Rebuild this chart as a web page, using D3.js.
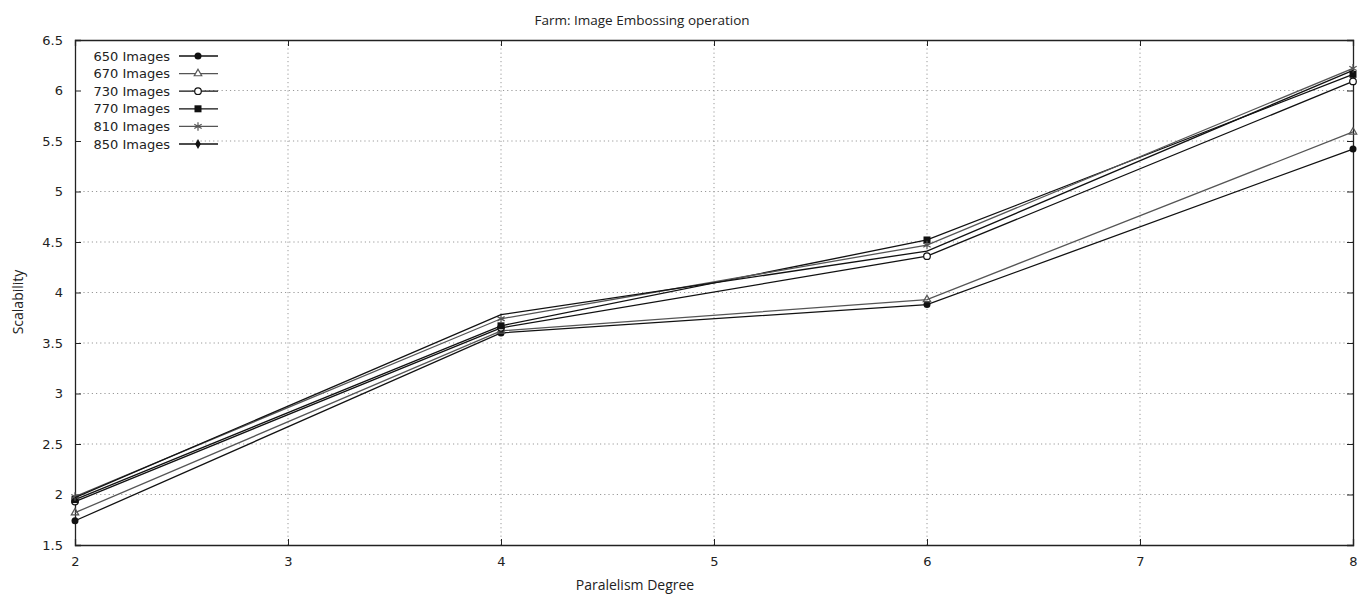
<!DOCTYPE html>
<html>
<head>
    <script src="https://d3js.org/d3.v7.min.js"></script>
    <style>
        body { margin: 0; background: #fff; }
        .tick text { font-family: 'DejaVu Sans'; font-size: 13px; fill: #222; }
        .grid line { stroke: #999; stroke-dasharray: 1.2 3; }
        .series path { fill: none; }
        .lbl { font-family: 'Open Sans'; fill: #222; }
    </style>
</head>
<body>
<script>
    // values
    const degrees = [2, 4, 6, 8];
    const seriesNames = ['650 Images', '670 Images', '730 Images', '770 Images', '810 Images', '850 Images'];
    const s650 = [1.74, 3.60, 3.88, 5.42];
    const s670 = [1.82, 3.62, 3.93, 5.59];
    const s730 = [1.93, 3.65, 4.36, 6.09];
    const s770 = [1.95, 3.67, 4.52, 6.16];
    const s810 = [1.98, 3.74, 4.47, 6.22];
    const s850 = [1.97, 3.78, 4.41, 6.20];
    const xTicks = [2, 3, 4, 5, 6, 7, 8];
    const yTicks = [1.5, 2, 2.5, 3, 3.5, 4, 4.5, 5, 5.5, 6, 6.5];

    const allSeries = [s650, s670, s730, s770, s810, s850];
    const markers = ['circle', 'triangle', 'ocircle', 'square', 'star', 'diamond'];
    const strokes = ['#111', '#555', '#111', '#111', '#555', '#111'];

    const W = 1359, H = 594;
    const m = {left: 75, right: 6, top: 40, bottom: 49};

    const x = d3.scaleLinear().domain([2, 8]).range([m.left, W - m.right]);
    const y = d3.scaleLinear().domain([1.5, 6.5]).range([H - m.bottom, m.top]);

    const svg = d3.select('body').append('svg')
        .attr('width', W).attr('height', H);

    // grid
    const grid = svg.append('g').attr('class', 'grid');
    grid.selectAll('.gx').data(xTicks.slice(1, -1)).join('line')
        .attr('x1', d => x(d)).attr('x2', d => x(d))
        .attr('y1', y(6.5)).attr('y2', y(1.5));
    grid.selectAll('.gy').data(yTicks.slice(1, -1)).join('line')
        .attr('class', 'gy')
        .attr('x1', d => d >= 5.3 ? x(2.55) : x(2)).attr('x2', x(8))
        .attr('y1', d => y(d)).attr('y2', d => y(d));

    // axes with inward ticks
    const tk = 6;
    svg.append('g').attr('transform', `translate(0,${y(1.5)})`)
        .call(d3.axisBottom(x).tickValues(xTicks).tickSize(-tk).tickPadding(12).tickFormat(d3.format('d')));
    svg.append('g').attr('transform', `translate(0,${y(6.5)})`)
        .call(d3.axisTop(x).tickValues(xTicks).tickSize(-tk).tickFormat(''));
    svg.append('g').attr('transform', `translate(${x(2)},0)`)
        .call(d3.axisLeft(y).tickValues(yTicks).tickSize(-tk).tickPadding(12).tickFormat(d => d));
    svg.append('g').attr('transform', `translate(${x(8)},0)`)
        .call(d3.axisRight(y).tickValues(yTicks).tickSize(-tk).tickFormat(''));
    svg.selectAll('.domain').attr('stroke', '#222').attr('stroke-width', 1.3);
    svg.selectAll('.tick line').attr('stroke', '#222');

    // markers
    function drawMarker(g, type, cx, cy, color) {
        if (type === 'circle') g.append('circle').attr('cx', cx).attr('cy', cy).attr('r', 3.5).attr('fill', color);
        else if (type === 'ocircle') g.append('circle').attr('cx', cx).attr('cy', cy).attr('r', 3.3).attr('fill', '#fff').attr('stroke', color).attr('stroke-width', 1.2);
        else if (type === 'triangle') g.append('path').attr('d', d3.symbol(d3.symbolTriangle, 24)()).attr('transform', `translate(${cx},${cy})`).attr('fill', '#fff').attr('stroke', color).attr('stroke-width', 1.2);
        else if (type === 'square') g.append('rect').attr('x', cx - 3.5).attr('y', cy - 3.5).attr('width', 7).attr('height', 7).attr('fill', color);
        else if (type === 'star') g.append('path').attr('d', d3.symbol(d3.symbolAsterisk, 50)()).attr('transform', `translate(${cx},${cy})`).attr('fill', 'none').attr('stroke', color).attr('stroke-width', 1.2);
        else if (type === 'diamond') g.append('path').attr('d', d3.symbol(d3.symbolDiamond, 28)()).attr('transform', `translate(${cx},${cy})`).attr('fill', color);
    }

    const line = d3.line().x((d, i) => x(degrees[i])).y(d => y(d));

    allSeries.forEach((vals, k) => {
        const g = svg.append('g').attr('class', 'series');
        g.append('path').attr('d', line(vals)).attr('stroke', strokes[k]).attr('stroke-width', 1.3);
        vals.forEach((v, i) => drawMarker(g, markers[k], x(degrees[i]), y(v), strokes[k]));
    });

    // legend
    const leg = svg.append('g');
    seriesNames.forEach((name, k) => {
        const ly = 56 + k * 17.6;
        leg.append('text').attr('x', 170).attr('y', ly).attr('dy', '0.35em')
            .attr('text-anchor', 'end').attr('font-family', 'DejaVu Sans').attr('font-size', 13)
            .attr('fill', '#222').text(name);
        leg.append('line').attr('x1', 179).attr('x2', 218).attr('y1', ly).attr('y2', ly)
            .attr('stroke', strokes[k]).attr('stroke-width', 1.3);
        drawMarker(leg, markers[k], 198, ly, strokes[k]);
    });

    // titles
    svg.append('text').attr('class', 'lbl').attr('x', 642).attr('y', 25)
        .attr('text-anchor', 'middle').attr('font-size', 13.5).text('Farm: Image Embossing operation');
    svg.append('text').attr('class', 'lbl').attr('x', 635).attr('y', 590)
        .attr('text-anchor', 'middle').attr('font-size', 14).text('Paralelism Degree');
    svg.append('text').attr('class', 'lbl')
        .attr('transform', `translate(23,302) rotate(-90)`)
        .attr('text-anchor', 'middle').attr('font-size', 14).text('Scalability');
</script>
</body>
</html>
